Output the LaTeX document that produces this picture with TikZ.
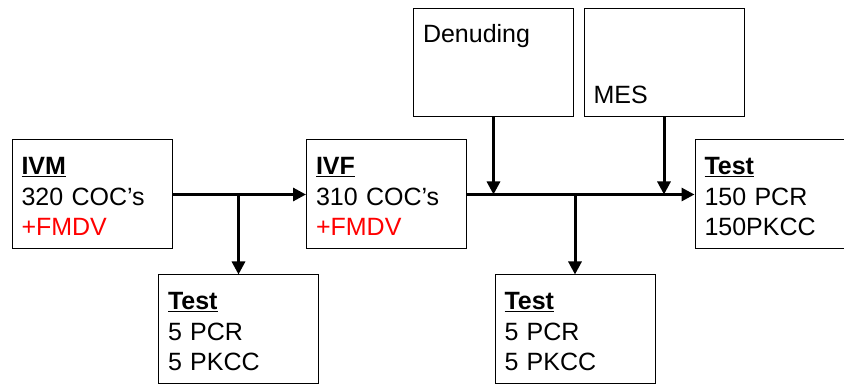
\documentclass[tikz,border=0pt]{standalone}
\usepackage{fontspec}
\setmainfont{Liberation Sans}
\usepackage{xcolor}
\usepackage{tikz}
\usetikzlibrary{calc,positioning,arrows.meta}
\definecolor{virusred}{HTML}{FF0000}
\definecolor{boxline}{HTML}{000000}
\definecolor{flowline}{HTML}{000000}
\tikzset{
  stagebox/.style  = {draw=boxline, line width=1pt, text width=141pt,
                      inner xsep=9.5pt, inner ysep=0pt, align=left,
                      font=\fontsize{25}{30.5}\selectfont,
                      text height=35pt, text depth=74pt},
  upperbox/.style  = {stagebox, text height=34pt, text depth=74pt},
  lowerbox/.style  = {stagebox, text height=95pt, text depth=13pt},
  flow/.style      = {draw=flowline, line width=3pt,
                      -{Triangle[length=13pt, width=13pt]}},
}

\begin{document}
\begin{tikzpicture}[x=1pt, y=1pt]

    \useasboundingbox (0,0) rectangle (844,385);

    % ---------- box centres --------------------------------------------
    \coordinate (ivm)  at (92,190.5);    \coordinate (ivf)  at (386.5,190.5);
    \coordinate (den)  at (493.5,322);   \coordinate (mes)  at (664,322);
    \coordinate (tsa)  at (238.5,55.5);  \coordinate (tsb)  at (575,55.5);
    \coordinate (tsc)  at (775,190.5);

    % ---------- stages --------------------------------------------------
    \node[stagebox] (ivmbox) at (ivm)
      {\underline{\textbf{IVM}}\\320 COC’s\\\textcolor{virusred}{+FMDV}};
    \node[stagebox] (ivfbox) at (ivf)
      {\underline{\textbf{IVF}}\\310 COC’s\\\textcolor{virusred}{+FMDV}};
    \node[stagebox] (tscbox) at (tsc)
      {\underline{\textbf{Test}}\\150 PCR\\150PKCC};

    % ---------- steps feeding in from above -----------------------------
    \node[upperbox] (denbox) at (den) {Denuding};
    \node[lowerbox] (mesbox) at (mes) {MES};

    % ---------- samples taken out ---------------------------------------
    \node[stagebox] (tsabox) at (tsa)
      {\underline{\textbf{Test}}\\5 PCR\\5 PKCC};
    \node[stagebox] (tsbbox) at (tsb)
      {\underline{\textbf{Test}}\\5 PCR\\5 PKCC};

    % ---------- main line and branches ----------------------------------
    \draw[flow] (ivmbox.east) -- (ivfbox.west);
    \draw[flow] (ivfbox.east) -- (tscbox.west);
    \draw[flow] (tsabox.north |- ivmbox.east) -- (tsabox.north);
    \draw[flow] (tsbbox.north |- ivfbox.east) -- (tsbbox.north);
    \draw[flow] (denbox.south) -- (denbox.south |- ivfbox.east);
    \draw[flow] (mesbox.south) -- (mesbox.south |- ivfbox.east);

\end{tikzpicture}
\end{document}
